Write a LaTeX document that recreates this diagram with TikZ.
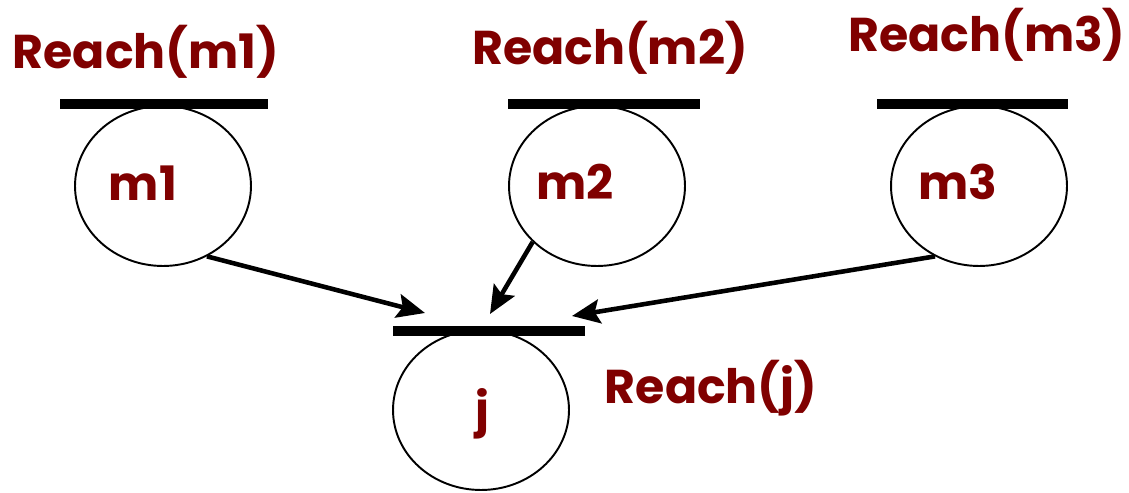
\documentclass[tikz,border=0pt]{standalone}
\usepackage{fontspec}
\setsansfont{Poppins}
\usepackage{xcolor}
\usepackage{tikz}
\usetikzlibrary{shapes.geometric, arrows.meta, positioning}
\definecolor{reachred}{RGB}{128,0,0}
\tikzstyle{place}  = [ellipse, draw=black, line width=1.1pt, minimum width=3.52cm,
                      minimum height=3.2cm, inner sep=0pt]
\tikzstyle{redtext} = [text=reachred, font=\sffamily\bfseries\fontsize{27}{30}\selectfont,
                      inner sep=0pt]
\tikzstyle{bar}    = [line width=5.6pt]
\tikzstyle{arrow}  = [line width=2.6pt, -{Stealth[length=0.56cm, width=0.48cm, inset=0.1cm]}]

\begin{document}
\begin{tikzpicture}[x=0.02cm, y=-0.02cm]
    \useasboundingbox (0,0) rectangle (1129,493);

    % places
    \node (m1) [place] at (163,186) {};
    \node (m2) [place] at (597,186) {};
    \node (m3) [place] at (979,186) {};
    \node (j)  [place] at (481,410) {};

    \node (tm1) [redtext] at (143,183) {m1};
    \node (tm2) [redtext] at (575,182) {m2};
    \node (tm3) [redtext] at (958,182) {m3};
    \node (tj)  [redtext] at (482,414) {j};

    % reach sets
    \node (rm1) [redtext] at (146,52)  {Reach(m1)};
    \node (rm2) [redtext] at (610,48)  {Reach(m2)};
    \node (rm3) [redtext] at (987,35)  {Reach(m3)};
    \node (rj)  [redtext] at (711,388) {Reach(j)};

    \draw [bar] (60,104)  -- (268,104);
    \draw [bar] (508,104) -- (700,104);
    \draw [bar] (877,104) -- (1068,104);
    \draw [bar] (393,331) -- (585,331);

    \coordinate (in1) at (425,313);
    \coordinate (in2) at (490,314);
    \coordinate (in3) at (572,316);

    \draw [arrow] (m1.-58)  -- (in1);
    \draw [arrow] (m2.-139) -- (in2);
    \draw [arrow] (m3.-122) -- (in3);
\end{tikzpicture}
\end{document}
